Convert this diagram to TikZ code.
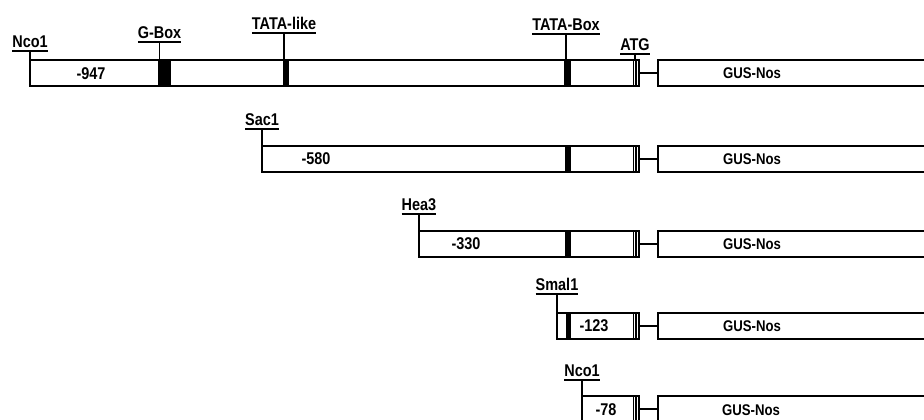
\documentclass[tikz,border=0pt]{standalone}
\usepackage{fontspec}
\setmainfont{Liberation Sans}[FakeStretch=0.85]
\newcommand\sitelabel[5]{% name, x, base y, text, box
  \node[lab] (#1) at (#2,#3) {#4};
  \draw[uline] ([yshift=-3.5pt]#1.base west) -- ([yshift=-3.5pt]#1.base east);
  \draw[tick] ([yshift=-3.5pt]#1.base) -- (#1.base |- #5.north);
}
\newcommand\atgmark[2]{% top y, bottom y
  \draw[line width=0.8pt] (633,#1) -- (633,#2);
  \fill (634.6,#1) rectangle (637.2,#2);
}
\begin{document}
\begin{tikzpicture}[x=1pt,y=-1pt,
  box/.style={draw, line width=1.6pt, rectangle, inner sep=0, outer sep=0,
              anchor=north west, minimum height=26pt},
  lab/.style={font=\fontsize{17}{20}\selectfont\bfseries, inner sep=0, outer sep=0, anchor=base},
  num/.style={font=\fontsize{17}{20}\selectfont\bfseries, inner sep=0},
  gus/.style={font=\fontsize{15.5}{18}\selectfont\bfseries, inner sep=0},
  tick/.style={line width=1.3pt},
  uline/.style={line width=1.5pt},
  link/.style={line width=1.5pt},
]
\clip (0,0) rectangle (924,420);
\fill[white] (0,0) rectangle (924,420);

% ---- row 1 ----
\node[box, minimum width=609pt] (p1) at (30,60) {};
\node[box, minimum width=300pt] (g1) at (658,60) {};
\draw[link] (p1.east) -- (g1.west);
\fill (158,60) rectangle (171,86);
\fill (283,60) rectangle (289,86);
\fill (564,60) rectangle (571,86);
\atgmark{60}{86}
\node[num] (t1) at (91,73.5) {-947};
\node[gus] (u1) at (752,73.5) {GUS-Nos};
\sitelabel{l1}{30}{47.5}{Nco1}{p1}
\sitelabel{l2}{159.5}{38.5}{G-Box}{p1}
\sitelabel{l3}{284}{29.5}{TATA-like}{p1}
\sitelabel{l4}{566}{30.5}{TATA-Box}{p1}
\sitelabel{l5}{635}{50.5}{ATG}{p1}

% ---- row 2 ----
\node[box, minimum width=377pt] (p2) at (262,146) {};
\node[box, minimum width=300pt] (g2) at (658,146) {};
\draw[link] (p2.east) -- (g2.west);
\fill (565,146) rectangle (571,172);
\atgmark{146}{172}
\node[num] (t2) at (316,159) {-580};
\node[gus] (u2) at (752,159) {GUS-Nos};
\sitelabel{l6}{262}{125.5}{Sac1}{p2}

% ---- row 3 ----
\node[box, minimum width=220pt] (p3) at (419,231) {};
\node[box, minimum width=300pt] (g3) at (658,231) {};
\draw[link] (p3.east) -- (g3.west);
\fill (565,231) rectangle (571,257);
\atgmark{231}{257}
\node[num] (t3) at (466,244) {-330};
\node[gus] (u3) at (752,244) {GUS-Nos};
\sitelabel{l7}{419}{210.5}{Hea3}{p3}

% ---- row 4 ----
\node[box, minimum width=82pt] (p4) at (557,313) {};
\node[box, minimum width=300pt] (g4) at (658,313) {};
\draw[link] (p4.east) -- (g4.west);
\fill (566,313) rectangle (571,339);
\atgmark{313}{339}
\node[num] (t4) at (594,326) {-123};
\node[gus] (u4) at (752,326) {GUS-Nos};
\sitelabel{l8}{557}{290.5}{Smal1}{p4}

% ---- row 5 ----
\node[box, minimum width=57pt] (p5) at (582,396) {};
\node[box, minimum width=300pt] (g5) at (658,396) {};
\draw[link] (p5.east) -- (g5.west);
\atgmark{396}{422}
\node[num] (t5) at (606,410) {-78};
\node[gus] (u5) at (751,410) {GUS-Nos};
\sitelabel{l9}{582}{376.5}{Nco1}{p5}
\end{tikzpicture}
\end{document}
